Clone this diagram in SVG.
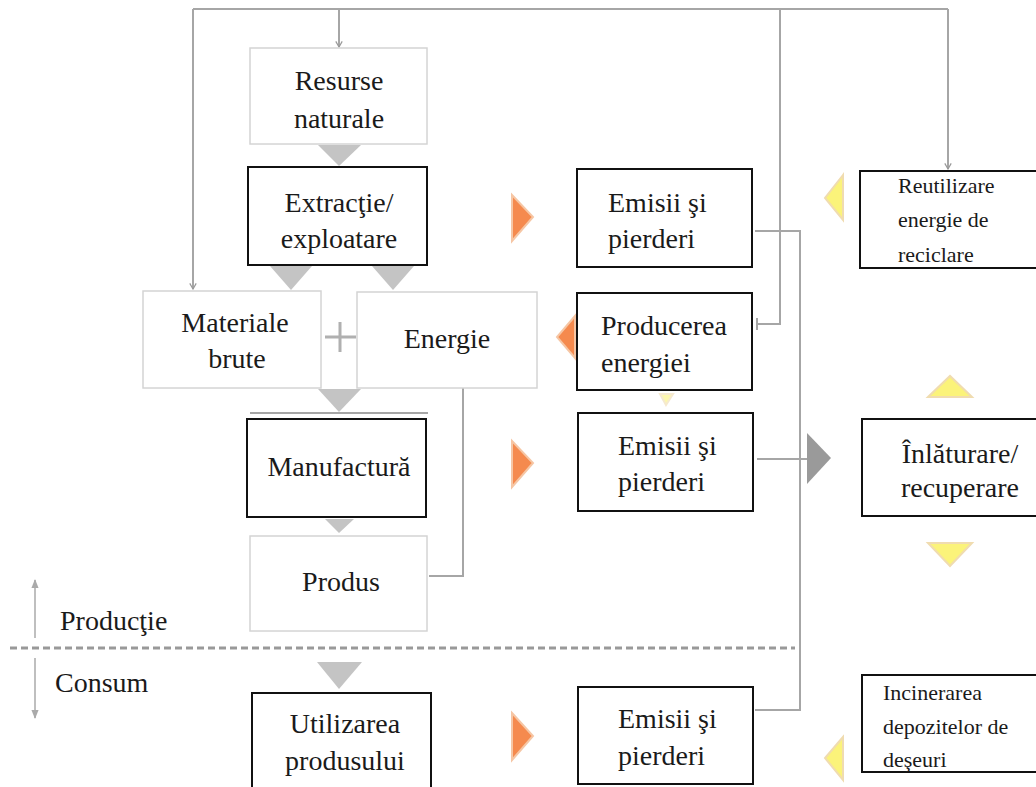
<svg xmlns="http://www.w3.org/2000/svg" width="1036" height="787" viewBox="0 0 1036 787" font-family="Liberation Serif, Times New Roman, serif">
<defs>
<style>
text{fill:#1a1a1a}
.t{font-size:28px}
.ts{font-size:22px}
.bb{fill:#fff;stroke:#111;stroke-width:2}
.lb{fill:#fff;stroke:#d4d4d4;stroke-width:1.5}
.ln{fill:none;stroke:#a6a6a6;stroke-width:2}
.gt{fill:#c4c4c4}
.ot{fill:#f58a4e;stroke:#f6c6a4;stroke-width:2}
.yt{fill:#fbf37a;stroke:#f0dcb0;stroke-width:2}
</style>
<marker id="ah" viewBox="0 0 10 10" refX="9" refY="5" markerWidth="8" markerHeight="8" orient="auto" markerUnits="userSpaceOnUse">
<path d="M2,1 L9,5 L2,9" fill="none" stroke="#999" stroke-width="1.5"/>
</marker>
<marker id="ah2" viewBox="0 0 10 10" refX="9" refY="5" markerWidth="9" markerHeight="9" orient="auto" markerUnits="userSpaceOnUse">
<path d="M0,1 L10,5 L0,9 Z" fill="#aaa"/>
</marker>
</defs>
<rect width="1036" height="787" fill="#fff"/>

<g id="connectors">
<path class="ln" d="M193,9 H948"/>
<path class="ln" d="M193,9 V289" marker-end="url(#ah)"/>
<path class="ln" d="M339,9 V47" marker-end="url(#ah)"/>
<path class="ln" d="M948,9 V169" marker-end="url(#ah)"/>
<path class="ln" d="M780,9 V324 H757"/>
<path class="ln" d="M757,318 V330"/>
<path class="ln" d="M755,231 H800 V710 H755"/>
<path class="ln" d="M757,459 H808"/>
<path class="ln" d="M463,388 V576 H429"/>
<path d="M10,648 H795" fill="none" stroke="#999" stroke-width="3" stroke-dasharray="7,4"/>
<path d="M35,638 V580" fill="none" stroke="#aaa" stroke-width="1.5" marker-end="url(#ah2)"/>
<path d="M35,658 V718" fill="none" stroke="#aaa" stroke-width="1.5" marker-end="url(#ah2)"/>
<path class="ln" d="M250,413 H428" stroke="#e0e0e0"/>
<polygon class="gt" points="318,145 361,145 339,166"/>
<polygon class="gt" points="270,266 312,266 291,290"/>
<polygon class="gt" points="372,266 414,266 393,290"/>
<polygon class="gt" points="318,389 361,389 339,412"/>
<polygon class="gt" points="325,519 354,519 339,533"/>
<polygon class="gt" points="317,662 362,662 339,689"/>
<polygon fill="#9a9a9a" points="807,433 831,458 807,484"/>
<polygon class="ot" points="512,195 533,217 512,241"/>
<polygon class="ot" points="512,441 533,463 512,487"/>
<polygon class="ot" points="512,713 533,736 512,760"/>
<polygon class="ot" points="575,316 557,337 575,358"/>
<polygon class="yt" points="843,175 825,198 843,220"/>
<polygon class="yt" points="843,737 825,758 843,780"/>
<polygon class="yt" points="928,397 950,376 972,397"/>
<polygon class="yt" points="928,543 972,543 950,566"/>
<polygon class="yt" points="660,394 673,394 666,405" opacity="0.6"/>
<path d="M325,337 H356 M340,322 V352" stroke="#b0b0b0" stroke-width="3" fill="none"/>
</g>

<g id="resurse"><rect class="lb" x="250" y="48" width="177" height="96"/><text class="t" text-anchor="middle" x="339" y="90">Resurse</text><text class="t" text-anchor="middle" x="339" y="128">naturale</text></g>
<g id="extractie"><rect class="bb" x="248" y="167" width="179" height="98"/><text class="t" text-anchor="middle" x="339" y="212">Extracţie/</text><text class="t" text-anchor="middle" x="339" y="248">exploatare</text></g>
<g id="materiale"><rect class="lb" x="143" y="291" width="178" height="97"/><text class="t" text-anchor="middle" x="235" y="332">Materiale</text><text class="t" text-anchor="middle" x="237" y="368">brute</text></g>
<g id="energie"><rect class="lb" x="357" y="292" width="180" height="96"/><text class="t" text-anchor="middle" x="447" y="348">Energie</text></g>
<g id="manufactura"><rect class="bb" x="247" y="419" width="179" height="98"/><text class="t" text-anchor="middle" x="339" y="476">Manufactură</text></g>
<g id="produs"><rect class="lb" x="250" y="536" width="177" height="95"/><text class="t" text-anchor="middle" x="341" y="591">Produs</text></g>
<g id="productie"><text class="t" x="60" y="630">Producţie</text></g>
<g id="consum"><text class="t" x="55" y="692">Consum</text></g>
<g id="utilizarea"><rect class="bb" x="252" y="693" width="179" height="100"/><text class="t" text-anchor="middle" x="345" y="733">Utilizarea</text><text class="t" text-anchor="middle" x="345" y="770">produsului</text></g>

<g id="emisii1"><rect class="bb" x="577" y="169" width="175" height="98"/><text class="t" x="608" y="212">Emisii şi</text><text class="t" x="608" y="248">pierderi</text></g>
<g id="producerea"><rect class="bb" x="577" y="293" width="175" height="97"/><text class="t" x="601" y="335">Producerea</text><text class="t" x="601" y="372">energiei</text></g>
<g id="emisii2"><rect class="bb" x="578" y="413" width="175" height="98"/><text class="t" x="618" y="455">Emisii şi</text><text class="t" x="618" y="491">pierderi</text></g>
<g id="emisii3"><rect class="bb" x="578" y="687" width="175" height="97"/><text class="t" x="618" y="728">Emisii şi</text><text class="t" x="618" y="765">pierderi</text></g>

<g id="reutilizare"><rect class="bb" x="860" y="171" width="185" height="97"/><text class="ts" x="898" y="193">Reutilizare</text><text class="ts" x="898" y="227">energie de</text><text class="ts" x="898" y="262">reciclare</text></g>
<g id="inlaturare"><rect class="bb" x="862" y="419" width="185" height="97"/><text class="t" text-anchor="middle" x="960" y="463">Înlăturare/</text><text class="t" text-anchor="middle" x="960" y="497">recuperare</text></g>
<g id="incinerarea"><rect class="bb" x="862" y="675" width="185" height="97"/><text class="ts" x="883" y="700">Incinerarea</text><text class="ts" x="883" y="734">depozitelor de</text><text class="ts" x="883" y="767">deşeuri</text></g>
</svg>
